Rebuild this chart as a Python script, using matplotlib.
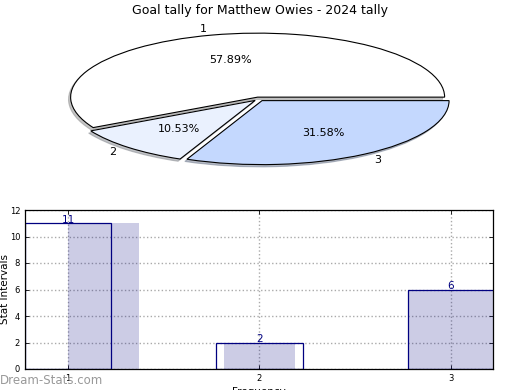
import numpy as np
import matplotlib
matplotlib.use("Agg")
import matplotlib.pyplot as plt

# data
slice_labels = ["1", "2", "3"]
goal_counts = [11, 2, 6]
slice_colors = ["#ffffff", "#eaf1fe", "#c4d8fe"]
bar_positions = [1, 2, 3]
bar_values = [11, 2, 6]
y_ticks = [0, 2, 4, 6, 8, 10, 12]

fig = plt.figure(figsize=(5.2, 3.9), dpi=100)
fig.text(0.5, 0.973, "Goal tally for Matthew Owies - 2024 tally",
         ha="center", va="center", fontsize=9)

# pie (squashed ellipse)
ax1 = fig.add_axes([72 / 520, (390 - 163) / 390, 374 / 520, 128 / 390])
ax1.pie(goal_counts, labels=slice_labels, colors=slice_colors,
        autopct="%.2f%%", explode=[0.03, 0.03, 0.03],
        shadow=dict(ox=-0.008, oy=-0.025, shade=0.45),
        startangle=0, counterclock=True,
        wedgeprops=dict(edgecolor="black", linewidth=0.8),
        textprops=dict(fontsize=8))
ax1.set_aspect("auto")
ax1.set_xlim(-1, 1)
ax1.set_ylim(-1, 1)
ax1.axis("off")

# bars
ax2 = fig.add_axes([25 / 520, 21 / 390, 468 / 520, 159 / 390])
x = np.array(bar_positions, dtype=float)
shade_left = x + np.array([0.0, -0.185, -0.225])
shade_width = [0.37, 0.37, 0.47]
ax2.bar(x, bar_values, width=0.45, color="white", zorder=1)
ax2.bar(shade_left, bar_values, width=shade_width, align="edge",
        color="#000080", alpha=0.2, linewidth=0, zorder=3)
ax2.bar(x, bar_values, width=0.45, fill=False, edgecolor="#000080",
        linewidth=0.9, zorder=4)
for xi, v in zip(x, bar_values):
    ax2.text(xi, v - 0.15, str(v), ha="center", va="bottom",
             fontsize=7.5, color="#000080", zorder=5)

ax2.set_xlim(0.775, 3.22)
ax2.set_ylim(0, 12)
ax2.set_xticks(bar_positions)
ax2.set_yticks(y_ticks)
ax2.tick_params(direction="in", labelsize=6, top=True, right=True,
                length=3, width=0.6)
ax2.grid(True, linestyle=":", color="#aaaaaa", linewidth=1.0, zorder=2)
ax2.set_axisbelow(False)
for sp in ax2.spines.values():
    sp.set_linewidth(0.9)
    sp.set_zorder(6)
ax2.set_ylabel("Stat Intervals", fontsize=7.5)
ax2.yaxis.set_label_coords(-15 / 468, 0.5)
ax2.set_xlabel("Frequency", fontsize=7.5, labelpad=3)

fig.text(0.0, 10 / 390, "Dream-Stats.com", ha="left",
         va="center", fontsize=8.5, color="#999999")

fig.savefig("out.png", dpi=100)
